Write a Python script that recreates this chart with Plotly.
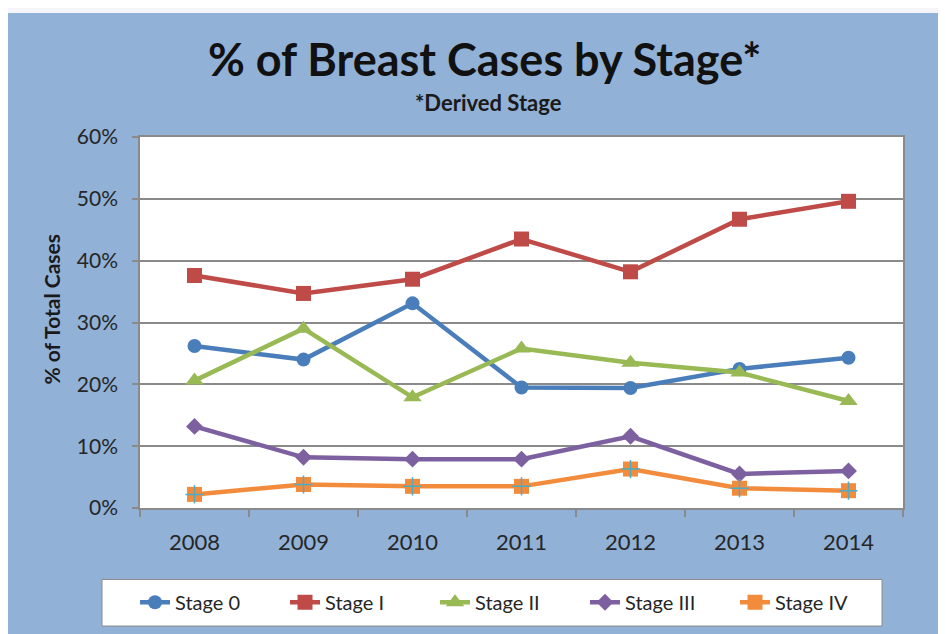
import plotly.graph_objects as go

years = ["2008", "2009", "2010", "2011", "2012", "2013", "2014"]
stage0 = [26.2, 24.0, 33.1, 19.5, 19.4, 22.5, 24.3]
stage1 = [37.6, 34.7, 37.0, 43.5, 38.2, 46.7, 49.6]
stage2 = [20.6, 29.0, 17.9, 25.8, 23.5, 21.9, 17.3]
stage3 = [13.2, 8.2, 7.9, 7.9, 11.6, 5.5, 6.0]
stage4 = [2.2, 3.8, 3.5, 3.5, 6.3, 3.2, 2.8]

series = [
    ("Stage 0", stage0, "#4A7EBB", "circle", 14),
    ("Stage I", stage1, "#BE4B48", "square", 15),
    ("Stage II", stage2, "#98B954", "triangle-up", 16),
    ("Stage III", stage3, "#7D60A0", "diamond", 13),
    ("Stage IV", stage4, "#F38B3C", "square", 15),
]

FONT = "Lato"
OFF = 8  # page body margin
W, H = 946 - OFF, 634 - OFF
# plot area in reference (window) pixels
RL, RR, RT, RB = 140, 903, 137, 511
L, R, T, B = RL - OFF, RR - OFF, RT - OFF, RB - OFF


def px(x):  # x in window pixels -> paper
    return (x - RL) / (RR - RL)


def py(y):  # y in window pixels -> paper
    return (RB - y) / (RB - RT)


fig = go.Figure()
for name, vals, color, sym, size in series:
    fig.add_trace(go.Scatter(
        x=years, y=vals, name=name, mode="lines+markers",
        line=dict(color=color, width=4.5),
        marker=dict(symbol=sym, size=size, color=color),
    ))
# teal cross inside the Stage IV markers
fig.add_trace(go.Scatter(
    x=years, y=stage4, mode="markers", showlegend=False, hoverinfo="skip",
    marker=dict(symbol="cross-thin", size=13, line=dict(color="#4BACC6", width=1.5)),
))

shapes = [
    dict(type="rect", xref="paper", yref="paper", layer="below",
         x0=px(0), x1=px(960), y0=py(650), y1=py(12),
         fillcolor="#91B1D7", line=dict(width=0)),
    dict(type="rect", xref="paper", yref="paper", layer="below",
         x0=0, x1=1, y0=0, y1=1, fillcolor="white", line=dict(width=0)),
    dict(type="rect", xref="paper", yref="paper", layer="below",
         x0=px(102), x1=px(882), y0=py(630), y1=py(583),
         fillcolor="white", line=dict(color="#8A8A8A", width=1)),
]

annotations = [
    dict(text="<b>% of Breast Cases by Stage*</b>", xref="paper", yref="paper",
         x=px(484), y=py(58), xanchor="center", yanchor="middle", showarrow=False,
         font=dict(family=FONT, size=45, color="#111111")),
    dict(text="<b>*Derived Stage</b>", xref="paper", yref="paper",
         x=px(488), y=py(102), xanchor="center", yanchor="middle", showarrow=False,
         font=dict(family=FONT, size=22, color="#1a1a1a")),
    dict(text="<b>% of Total Cases</b>", xref="paper", yref="paper",
         x=px(52), y=py(311), xanchor="center", yanchor="middle",
         showarrow=False, textangle=-90,
         font=dict(family=FONT, size=21, color="#1a1a1a")),
]

fig.update_layout(
    width=W, height=H,
    margin=dict(l=L, r=W - R, t=T, b=H - B, pad=0),
    paper_bgcolor="#F5F4F9",
    plot_bgcolor="white",
    shapes=shapes,
    annotations=annotations,
    font=dict(family=FONT, color="#262626"),
    showlegend=True,
    legend=dict(
        orientation="h", x=px(135), xanchor="left", y=py(606), yanchor="middle",
        bgcolor="rgba(0,0,0,0)", borderwidth=0,
        font=dict(family=FONT, size=20, color="#262626"),
        entrywidth=105, entrywidthmode="pixels", traceorder="normal",
    ),
    xaxis=dict(
        type="category", range=[-0.5, 6.5], showgrid=False,
        showline=True, linecolor="#8A8A8A", linewidth=1.5, mirror=True,
        ticks="outside", ticklen=7, tickcolor="#8A8A8A", tickwidth=1.5,
        tickson="boundaries", ticklabelstandoff=14,
        tickfont=dict(family=FONT, size=22, color="#262626"),
        fixedrange=True,
    ),
    yaxis=dict(
        range=[0, 60], dtick=10, ticksuffix="%",
        showgrid=True, gridcolor="#8A8A8A", gridwidth=1.5,
        showline=True, linecolor="#8A8A8A", linewidth=1.5, mirror=True,
        ticks="outside", ticklen=6, tickcolor="#8A8A8A", tickwidth=1.5,
        ticklabelstandoff=10, zeroline=False,
        tickfont=dict(family=FONT, size=21, color="#262626"),
        fixedrange=True,
    ),
)

fig.write_html("out.html")
